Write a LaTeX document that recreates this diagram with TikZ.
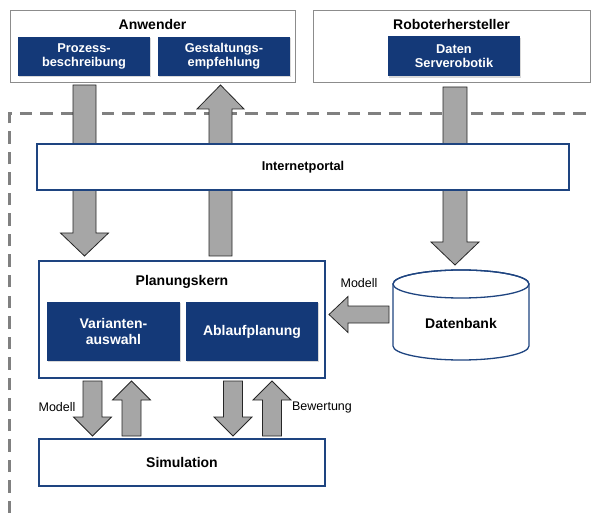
\documentclass[tikz,border=0pt]{standalone}
\usepackage{fontspec}
\setmainfont{Liberation Sans}
\usepackage{tikz}
\usetikzlibrary{calc}
\usetikzlibrary{shadows}
\definecolor{kernblue}{RGB}{20,57,120}
\definecolor{frameblue}{RGB}{30,68,128}
\definecolor{arrowgray}{RGB}{166,166,166}
\definecolor{dashgray}{RGB}{128,128,128}
\newcommand{\titlefont}{\fontsize{14}{16.5}\selectfont\bfseries}
\newcommand{\topfont}{\fontsize{12.8}{14.2}\selectfont\bfseries}
\newcommand{\kernfont}{\fontsize{14}{16.8}\selectfont\bfseries}
\newcommand{\labelfont}{\fontsize{12.5}{15}\selectfont}
\tikzstyle{outerbox} = [draw=black!45, fill=white, line width=0.8pt, inner sep=0pt, drop shadow={shadow xshift=1pt, shadow yshift=-1.2pt, opacity=0.25}]
\tikzstyle{bluebox} = [fill=kernblue, text=white, align=center, inner sep=0pt, drop shadow={shadow xshift=1pt, shadow yshift=-1.2pt, opacity=0.3}]
\tikzstyle{portbox} = [draw=frameblue, fill=white, line width=1.3pt, inner sep=0pt, align=center]
\tikzstyle{blockarrow} = [draw=black!85, fill=arrowgray, line width=0.8pt, line join=miter]
\tikzstyle{border} = [draw=dashgray, line width=3pt, dash pattern=on 12.5pt off 8pt]
% from, to, half shaft, half head, head length
\newcommand{\fatarrow}[5]{%
	\coordinate (fa-h) at ($(#2)!#5!(#1)$);
	\draw[blockarrow] ($(#1)!#3!90:(#2)$) -- ($(fa-h)!#3!-90:(#1)$) -- ($(fa-h)!#4!-90:(#1)$) -- (#2)
		-- ($(fa-h)!#4!90:(#1)$) -- ($(fa-h)!#3!90:(#1)$) -- ($(#1)!#3!-90:(#2)$) -- cycle;}

\begin{document}
\begin{tikzpicture}[x=1pt, y=-1pt]
	\useasboundingbox (0,0) rectangle (592,513);
	% -------------- Border --------------
	\draw[border] (9.5,513) -- (9.5,113.3) -- (592,113.3);
	% -------------- Arrows --------------
	\coordinate (a1s) at (84.5,85);    \coordinate (a1e) at (84.5,256);
	\coordinate (a2s) at (220.5,256);  \coordinate (a2e) at (220.5,85);
	\coordinate (a3s) at (455,87);     \coordinate (a3e) at (455,265);
	\coordinate (a4s) at (389,314.5);  \coordinate (a4e) at (329,314.5);
	\coordinate (m1s) at (92.5,381);   \coordinate (m1e) at (92.5,436);
	\coordinate (m2s) at (131.5,436);  \coordinate (m2e) at (131.5,381);
	\coordinate (m3s) at (233,381);    \coordinate (m3e) at (233,436);
	\coordinate (m4s) at (272,436);    \coordinate (m4e) at (272,381);
	\fatarrow{a1s}{a1e}{11.5pt}{24pt}{23pt}
	\fatarrow{a2s}{a2e}{11.5pt}{23.5pt}{24pt}
	\fatarrow{a3s}{a3e}{12pt}{24pt}{23pt}
	\fatarrow{a4s}{a4e}{8.5pt}{18pt}{19pt}
	\fatarrow{m1s}{m1e}{9.5pt}{19pt}{19pt}
	\fatarrow{m2s}{m2e}{9.5pt}{19pt}{19pt}
	\fatarrow{m3s}{m3e}{9.5pt}{19pt}{19pt}
	\fatarrow{m4s}{m4e}{9.5pt}{19pt}{19pt}
	% -------------- Anwender --------------
	\node[outerbox, minimum width=285pt, minimum height=72pt] (anwender) at (152.5,46) {};
	\node[font=\titlefont] (anwender-t) at (152.5,24) {Anwender};
	\node[bluebox, font=\topfont, minimum width=132pt, minimum height=39pt] (prozess) at (84,56.5) {Prozess-\\beschreibung};
	\node[bluebox, font=\topfont, minimum width=132pt, minimum height=39pt] (gestaltung) at (224,56.5) {Gestaltungs-\\empfehlung};
	% -------------- Roboterhersteller --------------
	\node[outerbox, minimum width=277pt, minimum height=72pt] (roboter) at (451.5,46) {};
	\node[font=\titlefont] (roboter-t) at (451.5,24) {Roboterhersteller};
	\node[bluebox, font=\topfont, minimum width=132pt, minimum height=40pt] (daten) at (454,56.5) {Daten\\Serverobotik};
	% -------------- Internetportal --------------
	\node[portbox, font=\topfont, minimum width=532pt, minimum height=46pt] (portal) at (303,167) {Internetportal};
	% -------------- Planungskern --------------
	\node[portbox, minimum width=286pt, minimum height=117pt] (kern) at (182,319.5) {};
	\node[font=\kernfont] (kern-t) at (182,282) {Planungskern};
	\node[bluebox, font=\kernfont, minimum width=133pt, minimum height=59pt] (varianten) at (113.5,331.5) {Varianten-\\auswahl};
	\node[bluebox, font=\kernfont, minimum width=132pt, minimum height=59pt] (ablauf) at (252,331.5) {Ablaufplanung};
	% -------------- Simulation --------------
	\node[portbox, font=\kernfont, minimum width=286pt, minimum height=47pt] (simulation) at (182,462.5) {Simulation};
	% -------------- Datenbank --------------
	\draw[draw=frameblue, fill=white, line width=1.3pt] (393,284) -- (393,346) arc[start angle=180, end angle=360, x radius=68pt, y radius=14pt]
		-- (529,284) arc[start angle=0, end angle=180, x radius=68pt, y radius=14pt] -- cycle;
	\draw[draw=frameblue, line width=1.3pt] (461,284) ellipse [x radius=68pt, y radius=14pt];
	\node[font=\kernfont] (db) at (461,323) {Datenbank};
	% -------------- Labels --------------
	\node[font=\labelfont] (l-db) at (359,283) {Modell};
	\node[font=\labelfont] (l-modell) at (57,407) {Modell};
	\node[font=\labelfont] (l-bew) at (322,407) {Bewertung};
\end{tikzpicture}
\end{document}
